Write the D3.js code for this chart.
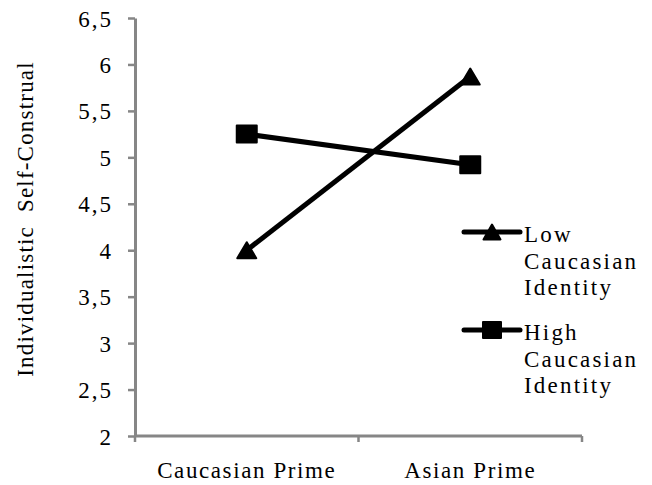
<!DOCTYPE html>
<html>
<head>
<meta charset="utf-8">
<script src="https://cdn.jsdelivr.net/npm/d3@7"></script>
<style>
  body { margin: 0; background: #fff; }
  text { font-family: "Liberation Serif", "Times New Roman", serif; fill: #000; }
</style>
</head>
<body>
<div id="chart"></div>
<script>
const categories = ["Caucasian Prime", "Asian Prime"];
const seriesNames = [["Low", "Caucasian", "Identity"], ["High", "Caucasian", "Identity"]];
const lowValues = [4.0, 5.87];
const highValues = [5.25, 4.92];
const yTicks = [2, 2.5, 3, 3.5, 4, 4.5, 5, 5.5, 6, 6.5];

const width = 652, height = 485;
const margin = { left: 135, right: 70, top: 18, bottom: 49 };

const svg = d3.select("#chart").append("svg")
    .attr("width", width)
    .attr("height", height);

const x = d3.scaleBand()
    .domain(categories)
    .range([margin.left, width - margin.right]);

const y = d3.scaleLinear()
    .domain([2, 6.5])
    .range([height - margin.bottom, margin.top]);

const fmt = d => String(d).replace(".", ",");

// y axis
const yAxis = svg.append("g")
    .attr("transform", "translate(" + margin.left + ",0)")
    .call(d3.axisLeft(y).tickValues(yTicks).tickFormat(fmt).tickSize(7).tickSizeOuter(0));
yAxis.select(".domain").attr("stroke", "#868686").attr("stroke-width", 3);
yAxis.selectAll(".tick line").attr("stroke", "#868686").attr("stroke-width", 2.5);
yAxis.selectAll(".tick text")
    .attr("x", -22)
    .attr("dy", "0.35em")
    .style("font-size", "23px")
    .style("letter-spacing", "2px")
    .style("font-family", "Liberation Serif");

// x axis
const xAxis = svg.append("g")
    .attr("transform", "translate(0," + y(2) + ")");
xAxis.append("line")
    .attr("x1", margin.left).attr("x2", width - margin.right)
    .attr("stroke", "#868686").attr("stroke-width", 3);
const xBounds = [margin.left, margin.left + x.bandwidth(), width - margin.right];
xAxis.selectAll(".xtick").data(xBounds).enter().append("line")
    .attr("x1", d => d).attr("x2", d => d)
    .attr("y1", 0).attr("y2", 6)
    .attr("stroke", "#868686").attr("stroke-width", 2.5);
xAxis.selectAll(".xlabel").data(categories).enter().append("text")
    .attr("x", d => x(d) + x.bandwidth() / 2)
    .attr("y", 42)
    .attr("text-anchor", "middle")
    .style("font-size", "23px")
    .style("letter-spacing", "1.6px")
    .text(d => d);

// y title
svg.append("text")
    .attr("transform", "translate(33," + 219 + ") rotate(-90)")
    .attr("text-anchor", "middle")
    .style("font-size", "23px")
    .style("letter-spacing", "1.2px")
    .style("white-space", "pre")
    .text("Individualistic  Self-Construal");

const cx = d => x(d) + x.bandwidth() / 2;
const line = d3.line().x(d => cx(d.cat)).y(d => y(d.v));

const lowData = categories.map((c, i) => ({ cat: c, v: lowValues[i] }));
const highData = categories.map((c, i) => ({ cat: c, v: highValues[i] }));

// marker shapes (w x h box centred on the point)
function triPath(w, h) {
    return "M0," + (-h / 2) + "L" + (w / 2) + "," + (h / 2) + "L" + (-w / 2) + "," + (h / 2) + "Z";
}
function rectPath(w, h) {
    return "M" + (-w / 2) + "," + (-h / 2) + "h" + w + "v" + h + "h" + (-w) + "Z";
}

function drawSeries(data, d) {
    svg.append("path")
        .datum(data)
        .attr("d", line)
        .attr("fill", "none")
        .attr("stroke", "#000")
        .attr("stroke-width", 5);
    svg.selectAll(null).data(data).enter().append("path")
        .attr("d", d)
        .attr("transform", p => "translate(" + cx(p.cat) + "," + y(p.v) + ")")
        .attr("fill", "#000")
        .attr("stroke", "#000")
        .attr("stroke-linejoin", "round")
        .attr("stroke-width", 2);
}
drawSeries(highData, rectPath(20, 17));
drawSeries(lowData, triPath(19, 16));

// legend
const legendItems = [
    { names: seriesNames[0], d: triPath(17, 15), y: 232 },
    { names: seriesNames[1], d: rectPath(18, 16), y: 330 }
];
legendItems.forEach(item => {
    const g = svg.append("g").attr("transform", "translate(0," + item.y + ")");
    g.append("line")
        .attr("x1", 464).attr("x2", 520)
        .attr("stroke", "#000").attr("stroke-width", 5)
        .attr("stroke-linecap", "round");
    g.append("path")
        .attr("d", item.d)
        .attr("transform", "translate(492,0)")
        .attr("fill", "#000")
        .attr("stroke", "#000")
        .attr("stroke-linejoin", "round")
        .attr("stroke-width", 2);
    g.selectAll("text").data(item.names).enter().append("text")
        .attr("x", 524)
        .attr("y", (d, i) => 10 + i * 26.5)
        .style("font-size", "23px")
        .style("letter-spacing", "2.2px")
        .text(d => d);
});
</script>
</body>
</html>
